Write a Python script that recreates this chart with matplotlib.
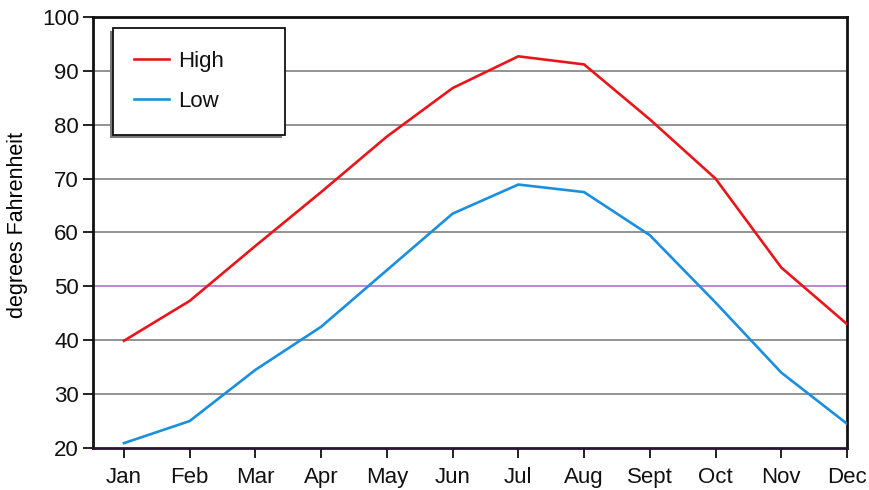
import matplotlib
matplotlib.use("Agg")
import matplotlib.pyplot as plt
from matplotlib.patches import Rectangle
from matplotlib.transforms import offset_copy

months = ["Jan", "Feb", "Mar", "Apr", "May", "Jun", "Jul", "Aug", "Sept", "Oct", "Nov", "Dec"]
high = [39.9, 47.3, 57.5, 67.5, 77.8, 86.8, 92.7, 91.2, 81.0, 70.0, 53.5, 43.0]
low = [20.9, 25.0, 34.5, 42.5, 53.0, 63.5, 68.9, 67.5, 59.5, 47.0, 34.0, 24.5]
yticks = [20, 30, 40, 50, 60, 70, 80, 90, 100]

plt.rcParams['font.family'] = ['Liberation Sans', 'DejaVu Sans']

fig = plt.figure(figsize=(8.7, 4.9), dpi=100)
ax = fig.add_axes([93/870, 1 - 448/490, (847-93)/870, (448-17)/490])

x = list(range(len(months)))
for yv in yticks[1:-1]:
    col = "#b57fc9" if yv == 50 else "#8a8a8a"
    ax.axhline(yv, color=col, lw=1.3, zorder=1)

ax.plot(x, high, color="#e8161b", lw=1.9, label="High", zorder=3)
ax.plot(x, low, color="#1a8fe0", lw=1.9, label="Low", zorder=3)

ax.set_xlim(-0.47, 11)
ax.set_ylim(20, 100)
ax.set_xticks(x)
ax.set_xticklabels(months)
ax.set_yticks(yticks)
ax.tick_params(axis='both', labelsize=16, length=7, width=1.3, direction='out', colors="#111111")
ax.tick_params(axis='x', pad=7)
ax.tick_params(axis='y', pad=3)
ax.set_ylabel("degrees Fahrenheit", fontsize=15.5)
ax.yaxis.set_label_coords(-0.086, 0.517)
for s in ax.spines.values():
    s.set_linewidth(2)
    s.set_color("#111111")
ax.spines['bottom'].set_color("#2a1530")

# legend frame (drawn manually, shadow offset to lower-left)
bx, by, bw, bh = 0.027, 0.726, 0.228, 0.248
shadow_tr = offset_copy(ax.transAxes, fig=fig, x=-3, y=-3, units='dots')
ax.add_patch(Rectangle((bx, by), bw, bh, transform=shadow_tr, facecolor="#7a7a7a",
                       edgecolor="none", zorder=4, clip_on=False))
ax.add_patch(Rectangle((bx, by), bw, bh, transform=ax.transAxes, facecolor="white",
                       edgecolor="#111111", lw=1.3, zorder=5, clip_on=False))

leg = ax.legend(loc="upper left", bbox_to_anchor=(bx + 0.001, by + bh - 0.006), fontsize=16,
                frameon=False, borderpad=0.9, handlelength=1.55, labelspacing=0.85,
                borderaxespad=0, handletextpad=0.45)
leg.set_zorder(6)
for t in leg.get_texts():
    t.set_color("#111111")

fig.savefig("out.png", dpi=100)
